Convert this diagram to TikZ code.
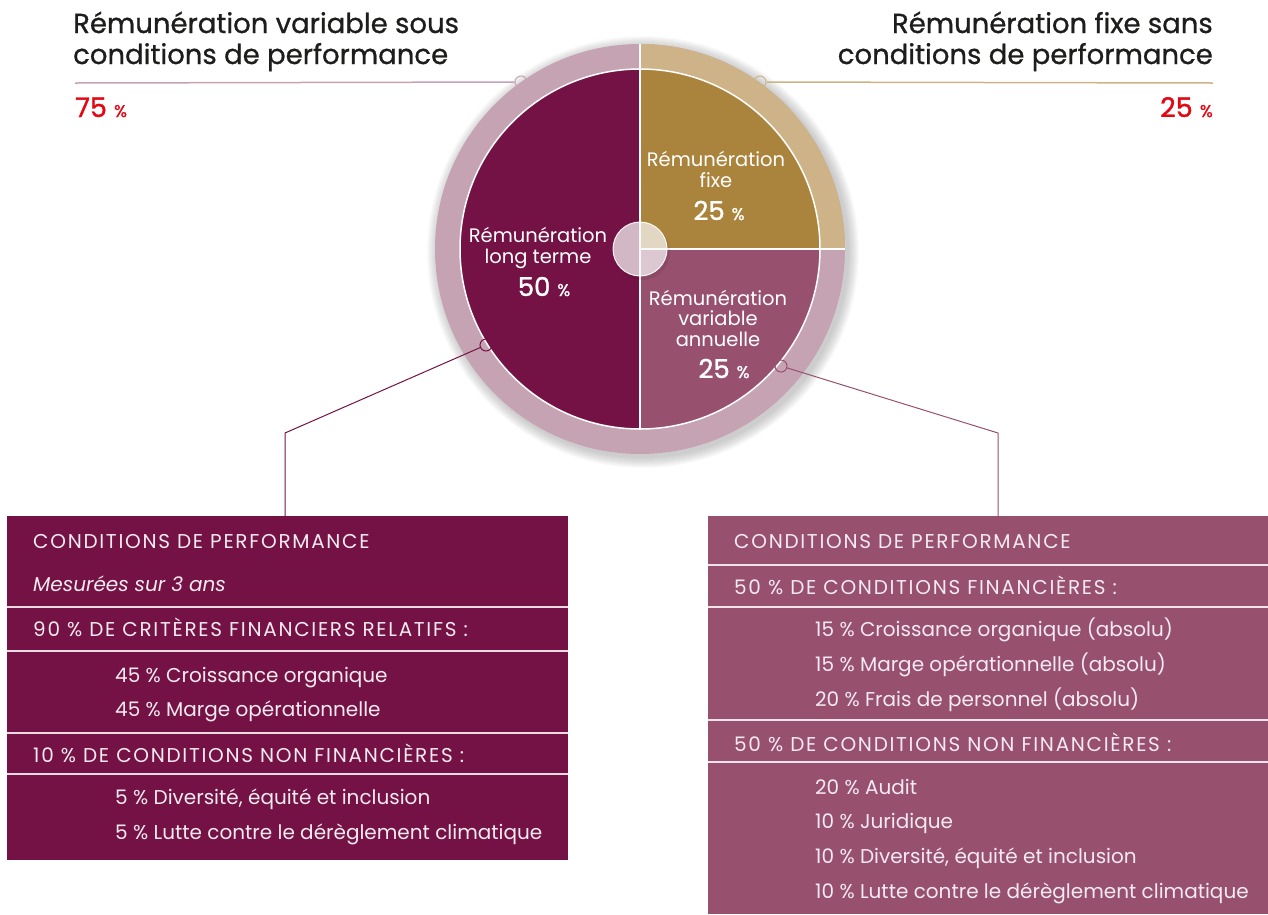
\documentclass[tikz,border=0pt]{standalone}
\usepackage{fontspec}
\setmainfont{Poppins}
\usepackage{tikz}
\usetikzlibrary{positioning, calc}

\definecolor{vinDark}{HTML}{741245}
\definecolor{vinMauve}{HTML}{98506F}
\definecolor{orFixe}{HTML}{AA843C}
\definecolor{ringPink}{HTML}{C6A3B3}
\definecolor{ringTan}{HTML}{CDB387}
\definecolor{pctRed}{HTML}{E30613}
\definecolor{titleInk}{HTML}{1D1D1B}
\definecolor{cellInk}{HTML}{F4EAF0}

\newcommand{\pctsign}[1]{{\fontsize{#1}{#1}\selectfont\%}}

\begin{document}
\begin{tikzpicture}[x=1pt, y=-1pt]
\tikzset{
  title text/.style={font=\fontsize{27.5}{31}\selectfont\addfontfeatures{FakeBold=0.8}, text=titleInk, inner sep=0pt},
  pct text/.style={font=\fontsize{27}{27}\selectfont\addfontfeatures{FakeBold=1.2}, text=pctRed, inner sep=0pt},
  pie label/.style={font=\fontsize{19.5}{20.5}\selectfont, text=white, align=center, inner sep=0pt, anchor=base},
  pie pct/.style={font=\fontsize{26}{26}\selectfont\addfontfeatures{FakeBold=1.2}, text=white, inner sep=0pt, anchor=base},
  cell text/.style={font=\fontsize{20}{20}\selectfont, text=cellInk, anchor=base west, inner sep=0pt},
  cell caps/.style={cell text, font=\fontsize{20}{20}\selectfont\addfontfeatures{LetterSpace=8.5}},
  panel/.style={anchor=north west, inner sep=0pt, outer sep=0pt},
  ring dot/.style={circle, draw, line width=1pt, minimum size=12pt, inner sep=0pt},
  row rule/.style={white, line width=2pt, opacity=0.85},
}
\useasboundingbox (0,0) rectangle (1268,914);

\coordinate (c) at (640,249);

\foreach \r in {206,...,216}
  \fill[black, opacity=0.018] (643,252) circle (\r);
\fill[ringPink] (c) circle (205);
\fill[ringTan] (c) -- ++(0:205) arc[start angle=0, end angle=-90, radius=205] -- cycle;

\fill[vinDark] (c) -- ++(90:180) arc[start angle=90, end angle=270, radius=180] -- cycle;
\fill[orFixe] (c) -- ++(0:180) arc[start angle=0, end angle=-90, radius=180] -- cycle;
\fill[vinMauve] (c) -- ++(0:180) arc[start angle=0, end angle=90, radius=180] -- cycle;
\draw[white, line width=1.5pt] (c) circle (180);
\draw[white, line width=1.5pt] (640,44) -- (640,429);
\draw[white, line width=1.5pt] (c) -- (845,249);
\fill[black, opacity=0.08] (642,252) circle (28);
\draw[white, fill=white, fill opacity=0.7, draw opacity=0.9, line width=1pt] (c) circle (27);

\node[pie label] (fixe lbl) at (716,187) {Rémunération\\fixe};
\node[pie pct] (fixe pct) at (719,220) {25 \pctsign{17}};
\node[pie label] (lt lbl) at (538,263) {Rémunération\\long terme};
\node[pie pct] (lt pct) at (544,296) {50 \pctsign{17}};
\node[pie label] (var lbl) at (718,346) {Rémunération\\variable\\annuelle};
\node[pie pct] (var pct) at (724,378) {25 \pctsign{17}};

\node[title text, anchor=base west, align=left] (var title) at (73,64) {Rémunération variable sous\\conditions de performance};
\node[title text, anchor=base east, align=right] (fix title) at (1213,64) {Rémunération fixe sans\\conditions de performance};
\node[pct text, anchor=base west] (var share) at (75,117) {75 \pctsign{17}};
\node[pct text, anchor=base east] (fix share) at (1213,117) {25 \pctsign{17}};

\node[panel, fill=vinDark, minimum width=561, minimum height=344] (lbox) at (7,516) {};
\node[panel, fill=vinMauve, minimum width=560, minimum height=398] (rbox) at (708,516) {};
\foreach \y in {607,651,733,774}
  \draw[row rule] (7,\y) -- (568,\y);
\foreach \y in {565,607,720,762}
  \draw[row rule] (708,\y) -- (1268,\y);

\coordinate (tl end) at (75,83);
\coordinate (tr end) at (1213,83);
\coordinate (bl bend) at (285,433);
\coordinate (br bend) at (998,433);
\node[ring dot, draw=ringPink] (tl dot) at (521,82) {};
\node[ring dot, draw=ringTan] (tr dot) at (760,82) {};
\node[ring dot, draw=vinDark] (bl dot) at (486,345) {};
\node[ring dot, draw=vinMauve] (br dot) at (781,366) {};
\draw[ringPink, line width=1.5pt] (tl end) -- (tl dot);
\draw[ringTan, line width=1.5pt] (tr dot) -- (tr end);
\draw[vinDark, line width=1pt] (bl dot) -- (bl bend) -- (bl bend |- lbox.north);
\draw[vinMauve, line width=1pt] (br dot) -- (br bend) -- (br bend |- rbox.north);

\node[cell caps] (l head) at (33,548) {CONDITIONS DE PERFORMANCE};
\node[cell text, font=\fontsize{20}{20}\selectfont\itshape] (l note) at (33,591) {Mesurées sur 3 ans};
\node[cell caps] (l fin) at (33,636) {90 \% DE CRITÈRES FINANCIERS RELATIFS :};
\node[cell text] (l fin a) at (115,682) {45 \% Croissance organique};
\node[cell text] (l fin b) at (115,716) {45 \% Marge opérationnelle};
\node[cell caps] (l nf) at (33,762) {10 \% DE CONDITIONS NON FINANCIÈRES :};
\node[cell text] (l nf a) at (115,804) {5 \% Diversité, équité et inclusion};
\node[cell text] (l nf b) at (115,839) {5 \% Lutte contre le dérèglement climatique};

\node[cell caps] (r head) at (734,548) {CONDITIONS DE PERFORMANCE};
\node[cell caps] (r fin) at (734,594) {50 \% DE CONDITIONS FINANCIÈRES :};
\node[cell text] (r fin a) at (815,636) {15 \% Croissance organique (absolu)};
\node[cell text] (r fin b) at (815,671) {15 \% Marge opérationnelle (absolu)};
\node[cell text] (r fin c) at (815,706) {20 \% Frais de personnel (absolu)};
\node[cell caps] (r nf) at (734,751) {50 \% DE CONDITIONS NON FINANCIÈRES :};
\node[cell text] (r nf a) at (815,794) {20 \% Audit};
\node[cell text] (r nf b) at (815,828) {10 \% Juridique};
\node[cell text] (r nf c) at (815,863) {10 \% Diversité, équité et inclusion};
\node[cell text] (r nf d) at (815,898) {10 \% Lutte contre le dérèglement climatique};

\end{tikzpicture}
\end{document}
